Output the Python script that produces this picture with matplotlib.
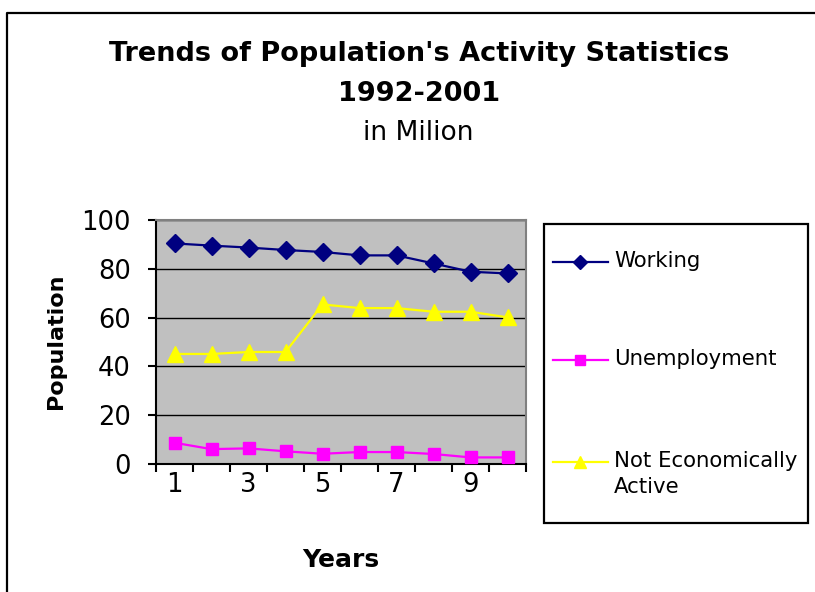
"""Population activity trends 1992-2001, Excel-style line chart."""

import matplotlib
matplotlib.use("Agg")
import matplotlib.pyplot as plt
from matplotlib.lines import Line2D
from matplotlib.patches import Rectangle

W, H = 815, 592

years = list(range(1, 11))
year_ticks = [1, 3, 5, 7, 9]
y_ticks = [0, 20, 40, 60, 80, 100]

series_names = ["Working", "Unemployment", "Not Economically\nActive"]
working = [90.4, 89.5, 88.7, 87.7, 86.9, 85.5, 85.5, 82.2, 78.8, 78.1]
unemployment = [8.7, 6.1, 6.4, 5.2, 4.2, 4.9, 4.9, 4.1, 2.7, 2.7]
not_active = [45.1, 45.1, 45.9, 45.9, 65.4, 63.9, 63.9, 62.4, 62.4, 60.1]

COLOURS = ["#000080", "#FF00FF", "#FFFF00"]
MARKERS = ["D", "s", "^"]
MSIZES = [9, 9, 11.5]


def fx(px):
    return px / W


def fy(py):
    return 1 - py / H


fig = plt.figure(figsize=(W / 100, H / 100), dpi=100)

# outer frame (left and top edges only visible)
fig.add_artist(Line2D([fx(7), fx(7), fx(815)], [fy(592), fy(12.5), fy(12.5)],
                      transform=fig.transFigure, color="black", lw=1.6))

ax = fig.add_axes([fx(156), fy(464), fx(526) - fx(156), fy(220) - fy(464)])
ax.set_facecolor("#C0C0C0")

handles = []
for vals, col, mk, ms in zip([working, unemployment, not_active], COLOURS, MARKERS, MSIZES):
    ln, = ax.plot(years, vals, color=col, marker=mk, markersize=ms,
                  markerfacecolor=col, markeredgecolor=col, linewidth=1.6, zorder=3)
    handles.append(ln)

ax.set_xlim(0.5, 10.5)
ax.set_ylim(0, 100)
ax.set_yticks(y_ticks)
ax.set_xticks(year_ticks)
ax.set_xticks([x + 0.5 for x in range(0, 11)], minor=True)
ax.tick_params(axis="x", which="major", length=0, pad=6, labelsize=18.5)
ax.tick_params(axis="x", which="minor", length=6, width=1.5, direction="out")
ax.tick_params(axis="y", length=6, width=1.5, direction="out", pad=12, labelsize=18.5)
ax.yaxis.grid(True, color="black", linewidth=1)
ax.set_axisbelow(True)

for side in ["top", "right"]:
    ax.spines[side].set_color("#808080")
    ax.spines[side].set_linewidth(1.5)
for side in ["left", "bottom"]:
    ax.spines[side].set_color("black")
    ax.spines[side].set_linewidth(1.5)

fig.text(fx(341), fy(560), "Years", ha="center", va="center",
         fontsize=18, fontweight="bold")
fig.text(fx(56), fy(341), "Population", ha="center", va="center",
         rotation=90, fontsize=16, fontweight="bold")

# titles
fig.text(fx(419), fy(54), "Trends of Population's Activity Statistics",
         ha="center", va="center", fontsize=19.5, fontweight="bold")
fig.text(fx(419), fy(94), "1992-2001", ha="center", va="center",
         fontsize=19.5, fontweight="bold")
fig.text(fx(418), fy(133), "in Milion", ha="center", va="center", fontsize=19)

# legend box
fig.add_artist(Rectangle((fx(544), fy(523)), fx(808) - fx(544), fy(224) - fy(523),
                         transform=fig.transFigure, fill=False,
                         edgecolor="black", lw=1.6))
rows = [262, 360, 462]
for h, name, row in zip(handles, series_names, rows):
    fig.add_artist(Line2D([fx(553), fx(608)], [fy(row), fy(row)],
                          transform=fig.transFigure, color=h.get_color(), lw=1.6))
    fig.add_artist(Line2D([fx(580)], [fy(row)], transform=fig.transFigure,
                          marker=h.get_marker(), markersize=h.get_markersize() * 0.8,
                          color=h.get_color(), linestyle="none"))
    fig.text(fx(614), fy(row - 11), name, ha="left", va="top",
             fontsize=15.3, linespacing=1.35)

fig.savefig("out.png", dpi=100)
plt.close(fig)
